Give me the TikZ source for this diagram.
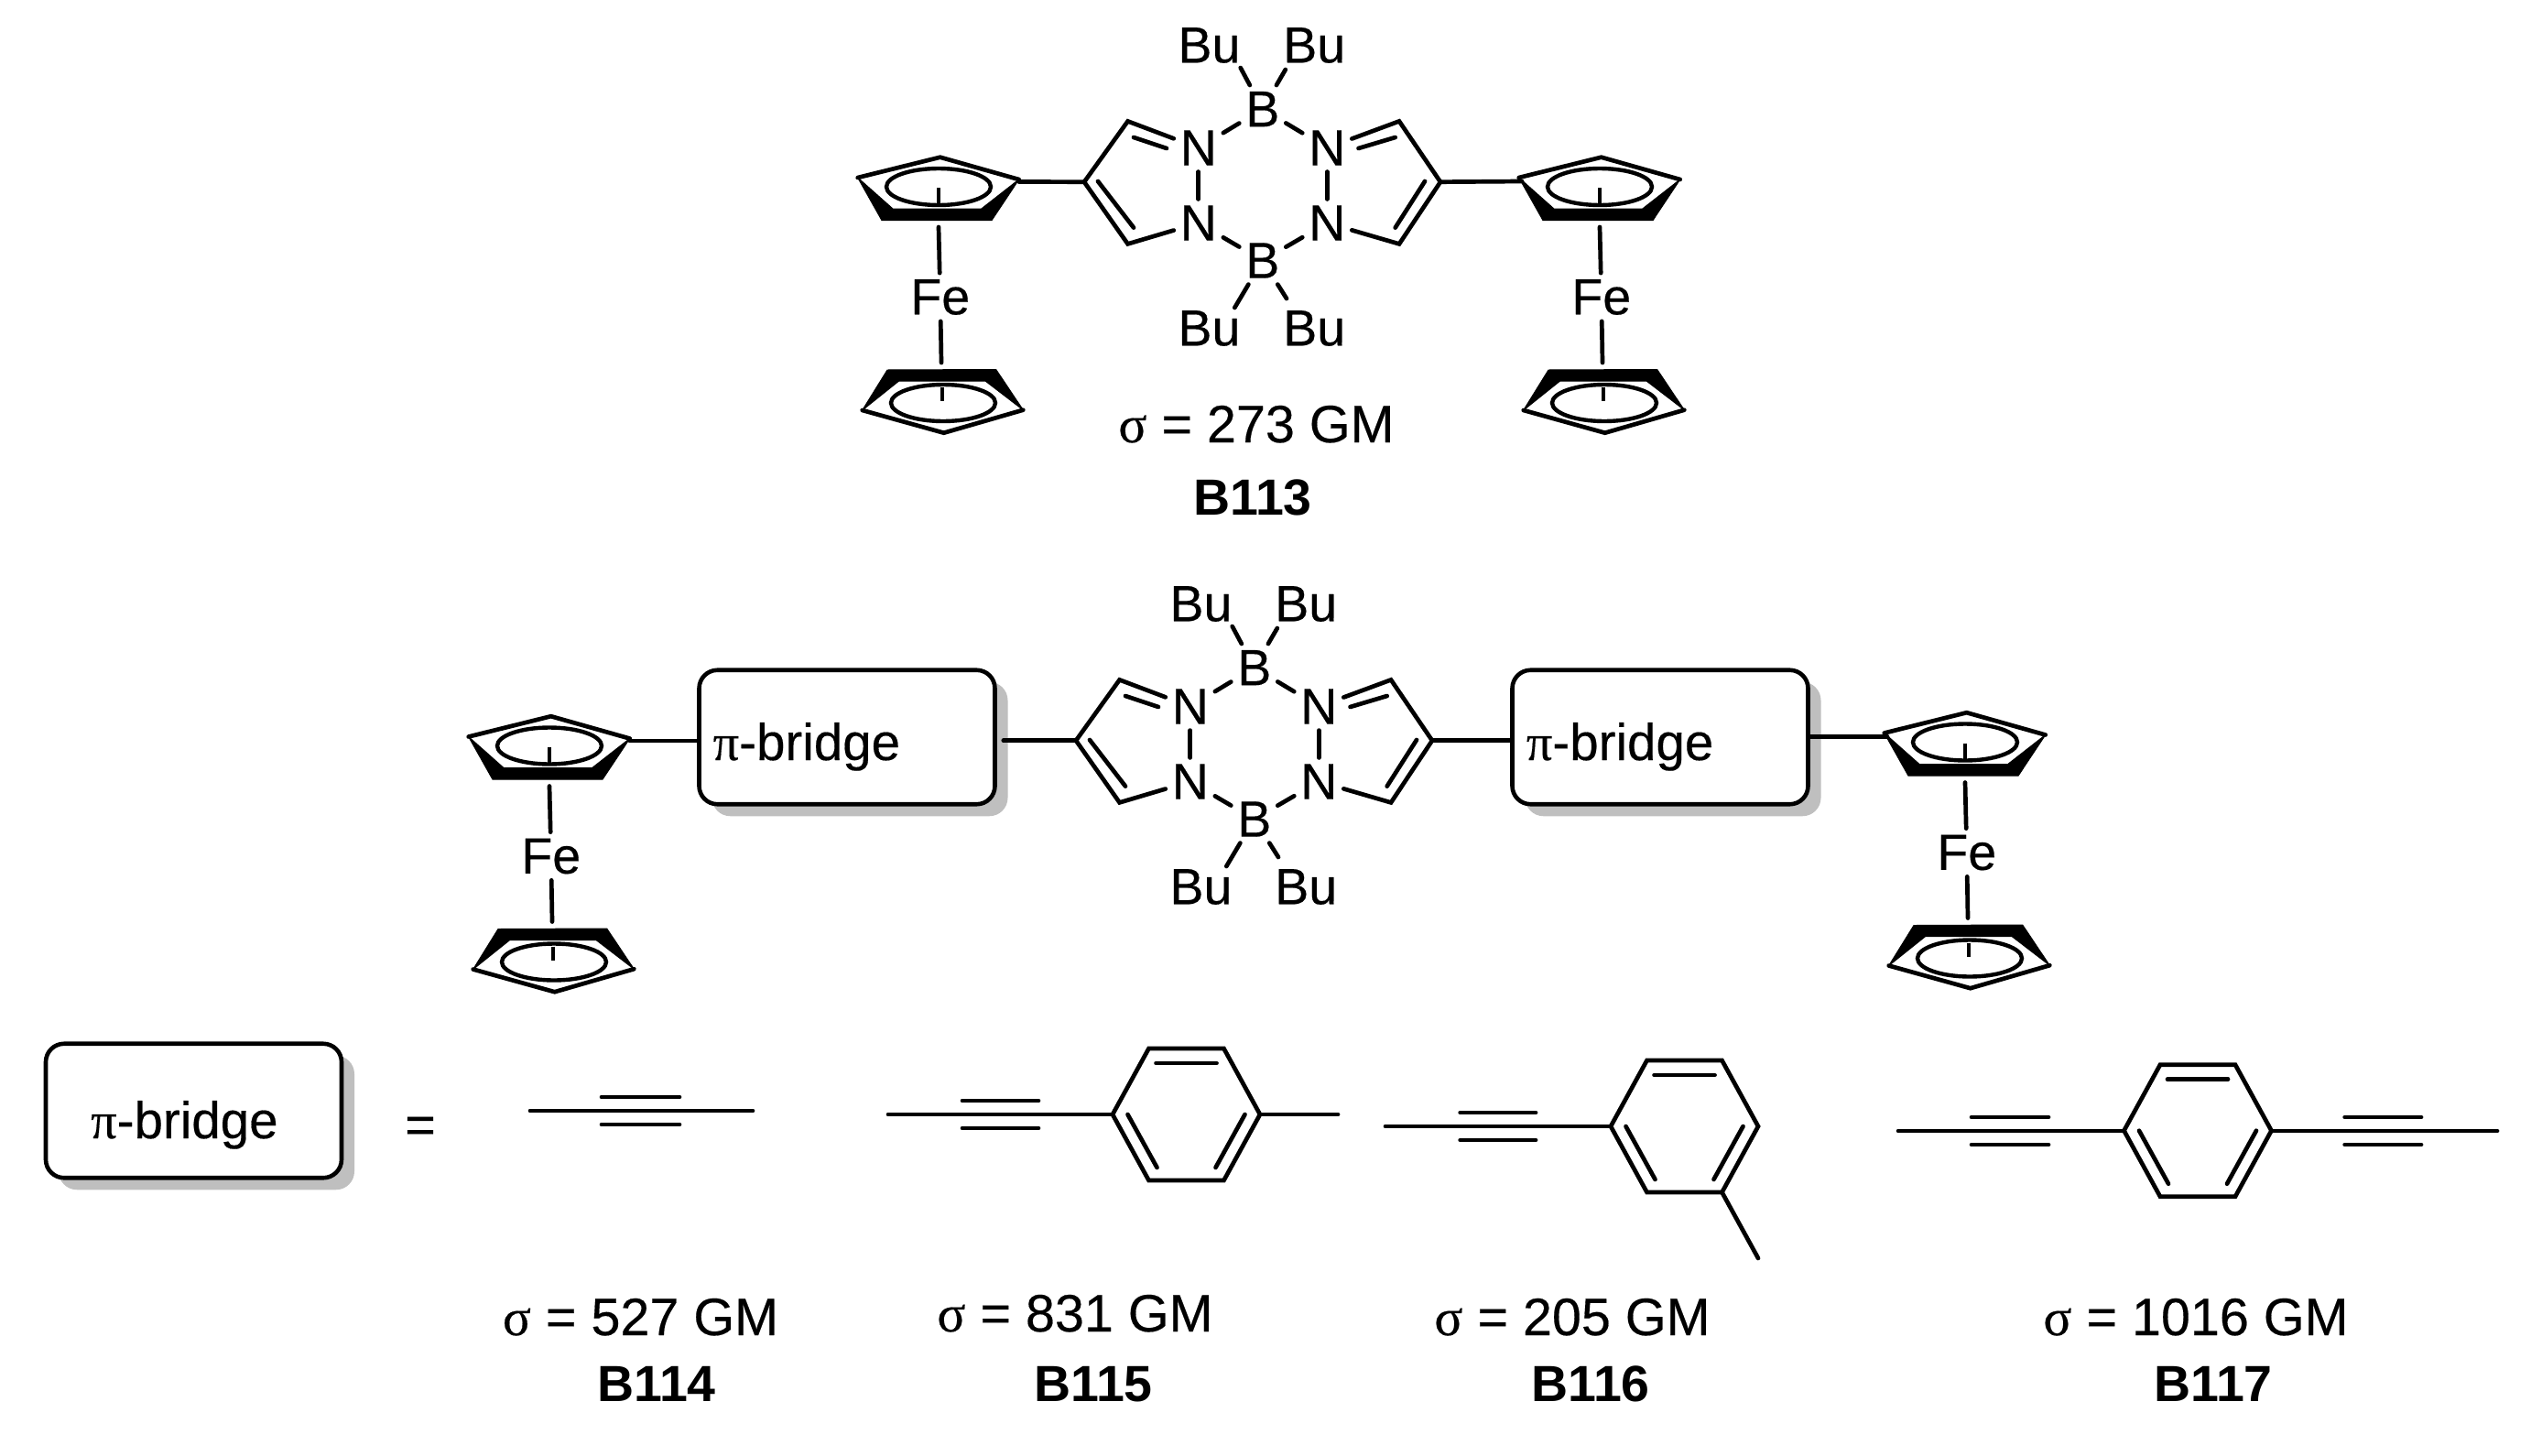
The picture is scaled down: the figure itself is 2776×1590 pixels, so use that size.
\documentclass[tikz,border=0pt]{standalone}
\usepackage{fontspec}
\setmainfont{Liberation Sans}
\newfontfamily\heavy{Liberation Sans}[FakeBold=0.3]
\newfontfamily\grk{Liberation Serif}[FakeBold=0.3]
\usetikzlibrary{shadows}
\definecolor{shadowgray}{RGB}{191,191,191}
\tikzset{
  x=1pt,y=-1pt,
  bond/.style={line width=4.7pt,line cap=round,line join=miter,miter limit=3},
  atom/.style={font=\fontsize{55.5}{60}\selectfont\heavy,inner sep=7pt,outer sep=0pt,xshift=0.8pt,yshift=-1.5pt},
  lab/.style={font=\fontsize{57.5}{60}\selectfont\heavy,anchor=base,inner sep=0pt},
  name lab/.style={font=\fontsize{55.5}{60}\selectfont\bfseries,anchor=base,inner sep=0pt},
  pitext/.style={font=\fontsize{56.5}{60}\selectfont\heavy,anchor=base west,inner sep=0pt},
  bridge/.style={draw,line width=4.6pt,fill=white,rounded corners=20pt,minimum width=323pt,minimum height=146.5pt,
    general shadow={shadow xshift=14pt,shadow yshift=-13pt,fill=shadowgray}},
  wedge/.style={fill=black,draw=black,line width=1pt,line join=round},
}
% ferrocene, drawn at the coordinates of the upper-left one, then shifted
\newcommand{\ferro}[3]{%
\begin{scope}[shift={(#2,#3)}]
  \coordinate (#1attR) at (1112.7,198.5);
  \coordinate (#1attL) at (940,198);
  \coordinate (#1ca) at (1025,248);
  \coordinate (#1cb) at (1028,396);
  \node[atom] (#1fe) at (1026,323) {Fe};
  \filldraw[wedge] (936.7,194) -- (963,240.7) -- (1083,240.7) -- (1112.7,196) -- (1071.7,228) -- (975,228) -- cycle;
  \draw[bond] (936.7,194) -- (1026.7,171.7) -- (1112.7,196);
  \draw[line width=4.4pt] (1025,204) ellipse [x radius=57pt,y radius=20pt];
  \draw[line width=3.6pt] (1025,205) -- (1025,222);
  \draw[bond] (#1ca) -- (#1fe);
  \draw[bond] (#1fe) -- (#1cb);
  \filldraw[wedge] (969,404) -- (1087.7,403.5) -- (1117.3,447.7) -- (1076,416) -- (981.7,416) -- (941.7,448) -- cycle;
  \draw[bond] (941.7,448) -- (1030.7,472.7) -- (1117.3,447.7);
  \draw[line width=4.4pt] (1030,440) ellipse [x radius=57pt,y radius=20pt];
  \draw[line width=3.6pt] (1028.7,423) -- (1028.7,438);
\end{scope}}
% bis-pyrazabole core
\newcommand{\core}[3]{%
\begin{scope}[shift={(#2,#3)}]
  \node[atom] (#1Bt) at (1378,117.6) {B};
  \node[atom] (#1Bb) at (1378,283) {B};
  \node[atom] (#1Ntl) at (1308,160) {N};
  \node[atom] (#1Nbl) at (1308,242) {N};
  \node[atom] (#1Ntr) at (1448.5,160) {N};
  \node[atom] (#1Nbr) at (1448.5,242) {N};
  \node[atom] (#1Bu1) at (1319.6,48) {Bu};
  \node[atom] (#1Bu2) at (1434.4,48) {Bu};
  \node[atom] (#1Bu3) at (1319.6,357) {Bu};
  \node[atom] (#1Bu4) at (1434.4,357) {Bu};
  \coordinate (#1Ctl) at (1231.6,132.4);
  \coordinate (#1Cl) at (1184,198.7);
  \coordinate (#1Cbl) at (1231.6,266.4);
  \coordinate (#1Ctr) at (1528,132.4);
  \coordinate (#1Cr) at (1573,198.7);
  \coordinate (#1Cbr) at (1528,266.4);
  \coordinate (#1e1) at (1354.7,74);
  \coordinate (#1e2) at (1403.8,76);
  \coordinate (#1e3) at (1348.3,336);
  \coordinate (#1e4) at (1405,326);
  \draw[bond] (#1Ntl) -- (#1Ctl) -- (#1Cl) -- (#1Cbl) -- (#1Nbl);
  \draw[bond] (#1Ntr) -- (#1Ctr) -- (#1Cr) -- (#1Cbr) -- (#1Nbr);
  \draw[bond] (1238,150) -- (1274,162);
  \draw[bond] (1199,198) -- (1238,248.6);
  \draw[bond] (1523.7,150) -- (1483.5,162);
  \draw[bond] (1556,198) -- (1523.7,248.6);
  \draw[bond] (#1Ntl) -- (#1Nbl);
  \draw[bond] (#1Ntr) -- (#1Nbr);
  \draw[bond] (#1Ntl) -- (#1Bt);
  \draw[bond] (#1Bt) -- (#1Ntr);
  \draw[bond] (#1Nbl) -- (#1Bb);
  \draw[bond] (#1Bb) -- (#1Nbr);
  \draw[bond] (#1e1) -- (#1Bt);
  \draw[bond] (#1e2) -- (#1Bt);
  \draw[bond] (#1e3) -- (#1Bb);
  \draw[bond] (#1e4) -- (#1Bb);
\end{scope}}
% benzene ring: name, centre x, centre y, half width
\newcommand{\benz}[4]{%
\begin{scope}[shift={(#2,#3)}]
  \coordinate (#1l) at (-#4,0);
  \coordinate (#1r) at (#4,0);
  \coordinate (#1tl) at (-41,-72);
  \coordinate (#1tr) at (41,-72);
  \coordinate (#1bl) at (-41,72);
  \coordinate (#1br) at (41,72);
  \draw[bond] (#1l) -- (#1tl) -- (#1tr) -- (#1r) -- (#1br) -- (#1bl) -- cycle;
  \draw[bond] (-33,-56) -- (33,-56);
  \draw[bond] (-64,0) -- (-32,58);
  \draw[bond] (64,0) -- (32,58);
\end{scope}}
% triple bond: name, start x, tick start x, tick end x, end x, y
\newcommand{\yne}[6]{%
  \coordinate (#1a) at (#2,#6);
  \coordinate (#1b) at (#5,#6);
  \draw[bond] (#1a) -- (#1b);
  \draw[bond] (#3,#6-15) -- (#4,#6-15);
  \draw[bond] (#3,#6+15) -- (#4,#6+15);}
\begin{document}
\begin{tikzpicture}
\useasboundingbox (0,0) rectangle (2776,1590);
\fill[white] (0,0) rectangle (2776,1590);

% B113
\core{a}{0}{0}
\ferro{fa}{0}{0}
\ferro{fb}{722}{0}
\draw[bond] (faattR) -- (aCl);
\draw[bond] (aCr) -- (fbattL);
\node[lab] (s113) at (1372,483) {{\grk σ} = 273 GM};
\node[name lab] (n113) at (1368,562) {B113};

% general structure
\core{b}{-9}{610}
\ferro{fc}{-425}{610.5}
\ferro{fd}{1121}{606.5}
\node[bridge] (bl) at (925,805) {};
\node[bridge] (br) at (1813,805) {};
\node[pitext] (tl) at (778.5,830) {{\grk π}-bridge};
\node[pitext] (tr) at (1666.7,830) {{\grk π}-bridge};
\draw[bond] (fcattR) -- (bl.west |- fcattR);
\draw[bond] ([xshift=7pt]bl.east |- bCl) -- (bCl);
\draw[bond] (bCr) -- (br.west |- bCr);
\draw[bond] (br.east |- fdattL) -- (fdattL);

% legend
\node[bridge] (bk) at (211.5,1213) {};
\node[pitext] (tk) at (99,1243) {{\grk π}-bridge};
\node[lab] (eq) at (459,1248) {=};

% B114
\yne{y1}{579}{657}{742}{822}{1213}
\node[lab] (s114) at (699.5,1458) {{\grk σ} = 527 GM};
\node[name lab] (n114) at (717,1530) {B114};

% B115
\benz{r2}{1295.5}{1217}{80.5}
\yne{y2}{970}{1051}{1134}{1215}{1217}
\coordinate (m2) at (1461,1217);
\draw[bond] (r2r) -- (m2);
\node[lab] (s115) at (1174,1454) {{\grk σ} = 831 GM};
\node[name lab] (n115) at (1194,1530) {B115};

% B116
\benz{r3}{1839.5}{1230}{80.5}
\yne{y3}{1513}{1594.6}{1677}{1759}{1230}
\coordinate (m3) at (1920,1374);
\draw[bond] (r3br) -- (m3);
\node[lab] (s116) at (1717,1458) {{\grk σ} = 205 GM};
\node[name lab] (n116) at (1737,1530) {B116};

% B117
\benz{r4}{2400}{1234.7}{80.5}
\yne{y4}{2073}{2153}{2237}{2319.5}{1235}
\yne{y5}{2480.5}{2560.6}{2644}{2727}{1235}
\node[lab] (s117) at (2398,1458) {{\grk σ} = 1016 GM};
\node[name lab] (n117) at (2417,1530) {B117};
\end{tikzpicture}
\end{document}
